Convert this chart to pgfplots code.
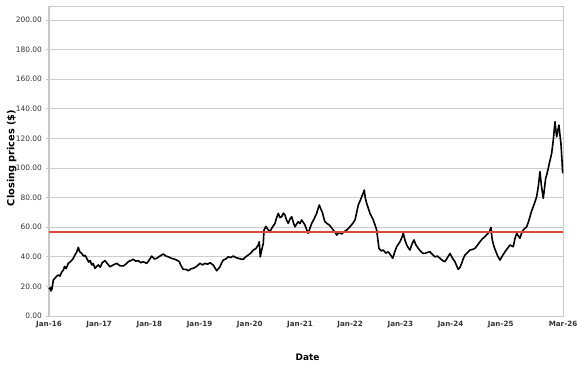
\documentclass[border=0pt]{standalone}
\usepackage{fontspec}
\setmainfont{DejaVu Sans}
\usepackage{pgfplots}
\pgfplotsset{compat=1.18}
\definecolor{gridgray}{RGB}{205,205,205}
\definecolor{axgray}{RGB}{200,200,200}
\definecolor{avgred}{RGB}{220,72,62}
\begin{document}
\begin{tikzpicture}
\path[use as bounding box] (0,0) rectangle (577bp,367bp);
\begin{axis}[
  at={(49bp,51bp)}, anchor=south west,
  scale only axis, width=514bp, height=310bp,
  xmin=0, xmax=10.24, ymin=0, ymax=209.5,
  xtick={0,1,2,3,4,5,6,7,8,9,10.24},
  xticklabels={Jan-16,Jan-17,Jan-18,Jan-19,Jan-20,Jan-21,Jan-22,Jan-23,Jan-24,Jan-25,Mar-26},
  ytick={0,20,...,200},
  /pgf/number format/assume math mode=true,
  yticklabel={\pgfmathprintnumber[fixed,fixed zerofill,precision=2]{\tick}},
  ymajorgrids, grid style={gridgray, line width=0.8bp},
  axis line style={axgray, line width=0.8bp},
  x tick style={draw=none},
  y tick style={axgray, line width=0.8bp},
  major tick length=3bp,
  tick align=outside,
  tick pos=left,
  ticklabel style={font=\fontsize{7.5}{8}\selectfont, text=black!80},
  xticklabel style={font=\bfseries\fontsize{7.2}{8}\selectfont, yshift=1.5bp},
  yticklabel style={xshift=-0.5bp},
  xlabel={\bfseries Date}, ylabel={\bfseries Closing prices (\$)},
  xlabel style={font=\fontsize{9}{10}\selectfont, at={(axis description cs:0.503,0)}, anchor=north, yshift=-34bp},
  ylabel style={font=\fontsize{9.8}{10}\selectfont, at={(axis description cs:0,0.51)}, anchor=south, yshift=29bp},
  clip=false,
]
\draw[axgray, line width=2.2bp] (rel axis cs:0,0) -- (rel axis cs:0,1);
\addplot[black, line width=1.6bp, line join=round] coordinates {
(0.00,19.0) (0.02,18.2) (0.034,19.4) (0.04,16.9) (0.06,18.5) (0.086,24.3) (0.12,25.5) (0.15,26.8) (0.185,27.7) (0.22,27.0) (0.25,29.5)
(0.285,31.0) (0.31,33.5) (0.34,32.0) (0.384,35.6) (0.42,36.5) (0.45,37.5) (0.484,39.0) (0.52,41.5) (0.55,43.0) (0.584,46.4)
(0.61,43.5) (0.651,42.3) (0.69,40.5) (0.72,41.0) (0.751,39.0) (0.79,36.5) (0.82,37.5) (0.851,34.5) (0.88,35.5) (0.916,32.2)
(0.95,33.5) (0.982,34.5) (1.02,33.0) (1.06,36.0) (1.116,37.4) (1.16,35.5) (1.215,33.3) (1.28,34.5) (1.349,35.6) (1.41,34.0)
(1.480,33.8) (1.53,35.0) (1.580,36.7) (1.63,37.5) (1.679,38.3) (1.73,37.0) (1.779,37.4) (1.83,36.0) (1.878,36.7) (1.946,35.6)
(2.00,38.0) (2.046,40.5) (2.10,38.5) (2.145,39.0) (2.21,40.5) (2.277,41.9) (2.33,40.5) (2.376,40.0) (2.44,39.0) (2.510,38.3)
(2.56,37.5) (2.596,36.7) (2.63,34.0) (2.675,31.5) (2.73,31.5) (2.775,30.6) (2.83,32.0) (2.875,32.2) (2.94,33.5) (3.008,35.6)
(3.06,34.5) (3.108,35.6) (3.16,35.0) (3.207,36.0) (3.27,34.5) (3.341,30.6) (3.406,33.3) (3.44,36.0) (3.472,37.8) (3.52,38.5)
(3.572,40.0) (3.62,39.5) (3.671,40.5) (3.72,39.5) (3.771,39.0) (3.82,38.5) (3.871,38.3) (3.92,40.0) (3.970,41.2) (4.02,42.5)
(4.070,44.6) (4.12,45.5) (4.169,48.0) (4.189,50.2) (4.209,40.0) (4.24,45.0) (4.269,49.0) (4.283,58.0) (4.32,60.5) (4.36,58.5)
(4.402,57.0) (4.45,60.0) (4.502,62.6) (4.53,66.0) (4.568,69.4) (4.60,66.5) (4.635,67.1) (4.67,69.5) (4.701,68.2) (4.73,65.0)
(4.767,62.6) (4.80,65.5) (4.835,67.1) (4.87,63.0) (4.900,60.3) (4.93,62.0) (4.966,63.7) (5.00,62.5) (5.034,64.9) (5.07,63.0)
(5.100,61.5) (5.13,58.5) (5.165,55.9) (5.20,59.5) (5.233,62.6) (5.28,65.5) (5.333,69.4) (5.36,72.5) (5.384,75.0) (5.42,72.0)
(5.452,69.4) (5.475,66.0) (5.498,63.7) (5.54,62.5) (5.584,61.5) (5.62,60.0) (5.663,58.1) (5.70,56.5) (5.731,54.7) (5.78,56.5)
(5.831,55.4) (5.88,57.0) (5.930,58.1) (5.96,59.0) (5.996,60.3) (6.05,62.5) (6.096,64.9) (6.13,70.0) (6.161,75.0) (6.20,78.0)
(6.229,80.6) (6.26,83.0) (6.281,85.1) (6.30,80.0) (6.329,76.1) (6.36,73.0) (6.394,69.4) (6.43,67.0) (6.460,64.9) (6.50,61.0)
(6.528,58.1) (6.55,52.0) (6.574,45.7) (6.62,44.0) (6.659,44.6) (6.71,42.5) (6.759,43.4) (6.80,41.5) (6.847,39.0) (6.89,43.5)
(6.926,46.8) (6.96,48.5) (6.992,50.2) (7.03,53.0) (7.058,55.9) (7.09,51.5) (7.126,48.0) (7.16,46.0) (7.191,44.6) (7.23,48.5)
(7.271,51.4) (7.31,48.0) (7.357,45.7) (7.41,43.5) (7.456,42.3) (7.490,42.3) (7.54,43.0) (7.590,43.4) (7.64,41.5) (7.689,40.0)
(7.74,40.5) (7.789,39.0) (7.84,37.5) (7.888,36.7) (7.94,39.5) (7.988,42.3) (8.04,39.0) (8.088,36.7) (8.12,34.0) (8.153,31.5)
(8.19,33.0) (8.221,35.6) (8.25,38.5) (8.287,41.2) (8.34,43.0) (8.386,44.6) (8.44,45.0) (8.486,45.7) (8.54,48.0) (8.586,50.2)
(8.63,52.0) (8.685,53.6) (8.72,55.0) (8.751,55.9) (8.78,57.5) (8.805,59.9) (8.82,54.0) (8.839,50.2) (8.87,46.5) (8.904,43.4)
(8.94,40.5) (8.984,37.8) (9.03,40.5) (9.084,43.4) (9.13,45.5) (9.183,48.0) (9.249,46.8) (9.28,52.0) (9.317,55.9) (9.382,52.5)
(9.41,55.5) (9.448,58.1) (9.516,60.3) (9.55,63.5) (9.582,67.1) (9.61,70.5) (9.647,73.9) (9.68,77.0) (9.715,80.6) (9.75,88.0)
(9.781,97.5) (9.81,88.0) (9.847,79.5) (9.87,86.0) (9.894,93.0) (9.92,96.0) (9.946,99.8) (9.98,105.0) (10.014,109.9) (10.05,120.0)
(10.080,131.3) (10.10,125.0) (10.114,121.1) (10.14,126.0) (10.159,129.0) (10.18,122.0) (10.199,116.7) (10.22,105.0) (10.233,96.4)
};
\addplot[avgred, line width=2bp] coordinates {(0,56.8) (10.24,56.8)};
\end{axis}
\end{tikzpicture}
\end{document}
